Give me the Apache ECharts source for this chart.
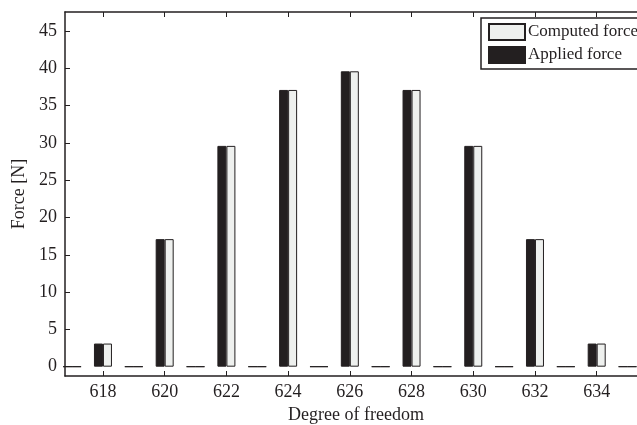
<!DOCTYPE html>
<html>
<head>
<meta charset="utf-8">
<script src="https://cdn.jsdelivr.net/npm/echarts@6/dist/echarts.min.js"></script>
<style>
html,body{margin:0;padding:0;background:#fff;}
#chart{width:637px;height:425px;}
</style>
</head>
<body>
<div id="chart"></div>
<script>
var dofs = [617,618,619,620,621,622,623,624,625,626,627,628,629,630,631,632,633,634,635];
var appliedForce  = [0,3.1,0,17.1,0,29.6,0,37.1,0,39.6,0,37.1,0,29.6,0,17.1,0,3.1,0];
var computedForce = [0,3.1,0,17.1,0,29.6,0,37.1,0,39.6,0,37.1,0,29.6,0,17.1,0,3.1,0];
var xTicks = [618,620,622,624,626,628,630,632,634];
var yTicks = [0,5,10,15,20,25,30,35,40,45];

var DARK = '#231f20';
var LIGHT = '#eef0ee';
var FONT = 'Liberation Serif';

function pairs(xs, ys){ return xs.map(function(x,i){ return [x, ys[i]]; }); }

var chart = echarts.init(document.getElementById('chart'), null, {renderer:'canvas'});
var xBase = {
  type:'value', min:616.77, max:635.63,
  axisLine:{show:true, onZero:false, lineStyle:{color:DARK, width:1.5}},
  splitLine:{show:false}
};
chart.setOption({
  animation:false,
  backgroundColor:'#fff',
  grid:{left:65, right:-10, top:12, bottom:49, containLabel:false, outerBoundsMode:'none'},
  legend:{
    orient:'vertical', left:481, top:18,
    data:['Computed force','Applied force'],
    itemWidth:36, itemHeight:16, itemGap:5,
    padding:[5,40,5,7],
    backgroundColor:'#fff', borderColor:DARK, borderWidth:1.5, borderRadius:0,
    icon:'rect',
    textStyle:{fontFamily:FONT, fontSize:17, color:DARK, padding:[0,0,0,-2]}
  },
  xAxis:[
    Object.assign({}, xBase, {
      position:'bottom',
      name:'Degree of freedom', nameLocation:'middle', nameGap:30,
      nameTextStyle:{fontFamily:FONT, fontSize:18, color:DARK},
      axisTick:{show:true, inside:true, length:5, customValues:xTicks, lineStyle:{color:DARK, width:1}},
      axisLabel:{show:true, customValues:xTicks, fontFamily:FONT, fontSize:18, color:DARK, margin:7}
    }),
    Object.assign({}, xBase, {
      position:'top',
      axisTick:{show:true, inside:true, length:5, customValues:xTicks, lineStyle:{color:DARK, width:1}},
      axisLabel:{show:false}
    })
  ],
  yAxis:{
    type:'value', min:-1.25, max:47.55,
    name:'Force [N]', nameLocation:'middle', nameGap:28,
    nameTextStyle:{fontFamily:FONT, fontSize:18, color:DARK},
    axisLine:{show:true, onZero:false, lineStyle:{color:DARK, width:1.5}},
    axisTick:{show:true, inside:true, length:5, customValues:yTicks, lineStyle:{color:DARK, width:1}},
    axisLabel:{show:true, customValues:yTicks, fontFamily:FONT, fontSize:18, color:DARK, margin:8},
    splitLine:{show:false}
  },
  series:[
    {
      name:'Applied force', type:'bar', xAxisIndex:0,
      data:pairs(dofs, appliedForce),
      barWidth:9, barGap:'0%',
      itemStyle:{color:DARK, borderColor:DARK, borderWidth:1}
    },
    {
      name:'Computed force', type:'bar', xAxisIndex:0,
      data:pairs(dofs, computedForce),
      barWidth:9, barGap:'0%',
      itemStyle:{color:LIGHT, borderColor:DARK, borderWidth:1}
    }
  ]
});
</script>
</body>
</html>
